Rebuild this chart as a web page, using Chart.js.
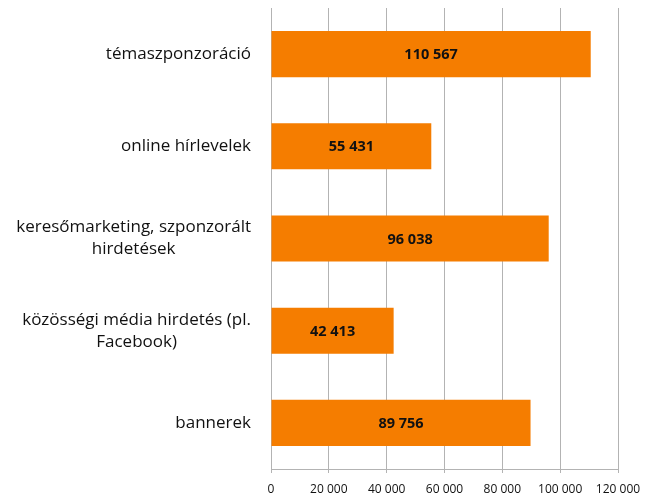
<!DOCTYPE html>
<html>
<head>
<meta charset="utf-8">
<script src="https://cdn.jsdelivr.net/npm/chart.js@4/dist/chart.umd.min.js"></script>
<style>
html,body{margin:0;padding:0;background:#fff;}
#wrap{width:647px;height:496px;position:relative;}
</style>
</head>
<body>
<div id="wrap"><canvas id="c" width="647" height="496"></canvas></div>
<script>
const categories = [
  ["témaszponzoráció"],
  ["online hírlevelek"],
  ["keresőmarketing, szponzorált", "hirdetések"],
  ["közösségi média hirdetés (pl.", "Facebook)"],
  ["bannerek"]
];
const values = [110567, 55431, 96038, 42413, 89756];
const xTicks = [0, 20000, 40000, 60000, 80000, 100000, 120000];

const fmt = v => String(v).replace(/\B(?=(\d{3})+(?!\d))/g, " ");
const FONT = "'Open Sans', 'Noto Sans', sans-serif";

const labelPlugin = {
  id: 'labels',
  afterDatasetsDraw(chart) {
    const ctx = chart.ctx;
    const meta = chart.getDatasetMeta(0);
    ctx.save();
    ctx.font = "bold 14.5px " + FONT;
    ctx.fillStyle = "#111";
    ctx.textAlign = "center";
    ctx.textBaseline = "middle";
    meta.data.forEach((bar, i) => {
      const cx = (bar.x + bar.base) / 2;
      ctx.fillText(fmt(values[i]), cx, bar.y + 1);
    });
    // category labels: lines centered within right-aligned block
    const ys = chart.scales.y;
    ctx.font = "17px " + FONT;
    ctx.fillStyle = "#111";
    const right = ys.right - 20;
    categories.forEach((lines, i) => {
      const y = ys.getPixelForTick(i);
      const w = Math.max(...lines.map(l => ctx.measureText(l).width));
      const cx = right - w / 2;
      const lh = 22;
      const y0 = y - (lines.length - 1) * lh / 2;
      lines.forEach((l, j) => ctx.fillText(l, cx, y0 + j * lh));
    });
    ctx.restore();
  }
};

new Chart(document.getElementById('c'), {
  type: 'bar',
  data: {
    labels: categories,
    datasets: [{
      data: values,
      backgroundColor: '#F57D00',
      borderWidth: 0,
      categoryPercentage: 0.5,
      barPercentage: 1
    }]
  },
  options: {
    indexAxis: 'y',
    responsive: false,
    animation: false,
    layout: { padding: { top: 8, right: 0, left: 0, bottom: 0 } },
    plugins: { legend: { display: false }, tooltip: { enabled: false } },
    scales: {
      x: {
        min: 0, max: 120000,
        afterBuildTicks(s) { s.ticks = xTicks.map(v => ({ value: v })); },
        afterFit(s) { s.height = 27; s.paddingRight = 29; s.paddingLeft = 0; },
        grid: { color: '#B3B3B3', lineWidth: 1, tickLength: 4, drawTicks: true },
        border: { color: '#B3B3B3', width: 1 },
        ticks: {
          font: { size: 12, family: FONT },
          color: '#111',
          padding: 9,
          maxRotation: 0,
          callback: v => fmt(v)
        }
      },
      y: {
        afterFit(s) { s.width = 271; },
        grid: { display: false, drawTicks: false },
        border: { color: '#B3B3B3', width: 1 },
        ticks: { display: false }
      }
    }
  },
  plugins: [labelPlugin]
});
</script>
</body>
</html>
